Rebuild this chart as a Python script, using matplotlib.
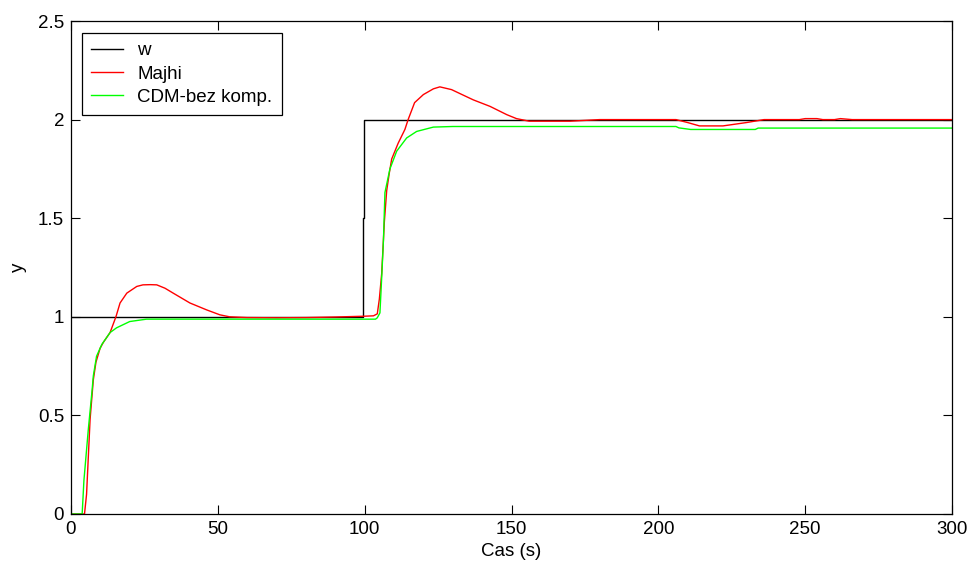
import matplotlib
matplotlib.use('Agg')
import matplotlib.pyplot as plt

plt.rcParams['font.family'] = ['Liberation Sans', 'DejaVu Sans']
plt.rcParams['font.size'] = 13.5

# reference w (set-point)
t_w = [0, 99.4, 99.4, 99.9, 99.9, 300]
w = [1, 1, 1.5, 1.5, 2, 2]

# Majhi response
t_majhi = [0, 4.6, 5.3, 6.5, 7.6, 8.5, 9.9, 11, 13.3, 15.3, 16.7, 19, 22.4, 24.5, 27,
           29.2, 32, 34.8, 40.5, 46.2, 50.7, 54, 60, 70, 80, 90, 100, 103, 104.3, 105,
           105.8, 106.7, 107.5, 108.4, 109.2, 111.4, 113.7, 114.8, 117, 120, 123.4,
           125.6, 129.6, 133, 137, 142.7, 148.4, 151.7, 156, 170, 180, 206, 210, 214,
           222, 230, 236, 248, 250, 254, 256, 260, 262, 266, 300]
y_majhi = [0, 0, 0.1, 0.48, 0.68, 0.77, 0.84, 0.87, 0.92, 1.0, 1.07, 1.12, 1.154, 1.162,
           1.163, 1.162, 1.145, 1.12, 1.07, 1.035, 1.01, 1.0, 0.996, 0.995, 0.996,
           0.999, 1.003, 1.005, 1.015, 1.09, 1.22, 1.48, 1.64, 1.73, 1.80, 1.88, 1.95,
           2.0, 2.086, 2.127, 2.156, 2.166, 2.152, 2.128, 2.10, 2.067, 2.025, 2.005,
           1.992, 1.992, 2.0, 2.0, 1.985, 1.968, 1.968, 1.985, 2.0, 2.0, 2.005, 2.005,
           2.0, 2.0, 2.005, 2.0, 2.0]

# CDM without compensation
t_cdm = [0, 3.8, 4.4, 5.9, 7.2, 7.6, 8.7, 10.5, 13.3, 15.5, 20, 25.7, 103.7, 104.3,
         105.2, 105.8, 106.4, 106.9, 108.6, 110.9, 114.3, 117.7, 123.4, 130, 206, 207,
         211, 233, 234, 300]
y_cdm = [0, 0, 0.17, 0.43, 0.63, 0.70, 0.80, 0.86, 0.92, 0.944, 0.976, 0.988, 0.988,
         0.995, 1.02, 1.2, 1.39, 1.63, 1.75, 1.84, 1.907, 1.94, 1.962, 1.965, 1.965,
         1.958, 1.95, 1.95, 1.957, 1.957]

fig = plt.figure(figsize=(9.69, 5.65), dpi=100)
ax = fig.add_axes([71 / 969, 1 - 514 / 565, 881 / 969, 493 / 565])

ax.plot(t_w, w, color='black', linewidth=1, label='w')
ax.plot(t_majhi, y_majhi, color='#ff0000', linewidth=1, label='Majhi')
ax.plot(t_cdm, y_cdm, color='#00ff00', linewidth=1, label='CDM-bez komp.')

ax.set_xlim(0, 300)
ax.set_ylim(0, 2.5)
ax.set_xticks([0, 50, 100, 150, 200, 250, 300])
ax.set_yticks([0, 0.5, 1, 1.5, 2, 2.5])
ax.set_yticklabels(['0', '0.5', '1', '1.5', '2', '2.5'])
ax.tick_params(direction='in', length=6.5, width=0.8, top=True, right=True, pad=5)
for s in ax.spines.values():
    s.set_linewidth(0.9)

ax.set_xlabel('Cas (s)', labelpad=4)
ax.set_ylabel('y', labelpad=8)

leg = ax.legend(loc='upper left', bbox_to_anchor=(0.0125, 0.9757), borderaxespad=0,
                fancybox=False, edgecolor='black', framealpha=1, borderpad=0.5,
                handlelength=1.7, handletextpad=0.75, labelspacing=0.32)
leg.get_frame().set_linewidth(0.9)

fig.savefig('out.png', dpi=100)
